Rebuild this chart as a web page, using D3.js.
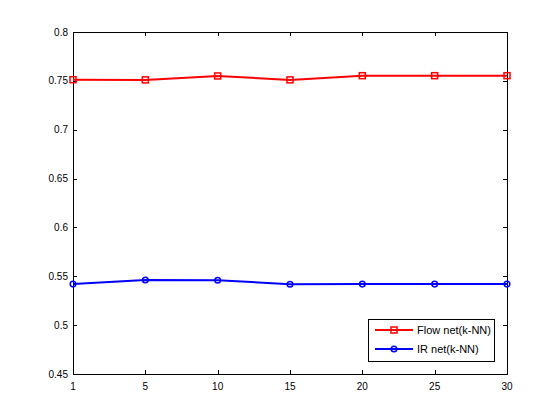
<!DOCTYPE html>
<html><head><meta charset="utf-8">
<script src="https://cdn.jsdelivr.net/npm/d3@7"></script>
<style>body{margin:0;background:#fff;} svg{display:block;} text{font-family:"Liberation Sans",Arial,Helvetica,sans-serif;font-size:10px;}</style>
</head><body>
<script>
const kLabels = ["1","5","10","15","20","25","30"];
const flowNet = [0.7512, 0.7510, 0.7550, 0.7510, 0.7553, 0.7553, 0.7553];
const irNet = [0.5420, 0.5462, 0.5460, 0.5418, 0.5420, 0.5420, 0.5420];
const yTicks = [0.45, 0.5, 0.55, 0.6, 0.65, 0.7, 0.75, 0.8];
const seriesNames = ["Flow net(k-NN)", "IR net(k-NN)"];

const W = 560, H = 420;
const m = {l: 73, r: 507, t: 32, b: 374};
const svg = d3.select("body").append("svg").attr("width", W).attr("height", H);
svg.append("rect").attr("width", W).attr("height", H).attr("fill", "#fff");

const x = d3.scalePoint().domain(kLabels).range([m.l, m.r]);
const y = d3.scaleLinear().domain([0.45, 0.8]).range([m.b, m.t]);
const tl = 4;

svg.append("rect").attr("x", m.l).attr("y", m.t).attr("width", m.r - m.l).attr("height", m.b - m.t)
  .attr("fill", "#fff").attr("stroke", "#000").attr("stroke-width", 1).attr("shape-rendering", "crispEdges");

const g = svg.append("g").attr("shape-rendering", "crispEdges");
kLabels.forEach(k => {
  const px = Math.round(x(k)) + 0.5;
  g.append("line").attr("x1", px).attr("x2", px).attr("y1", m.b).attr("y2", m.b - tl).attr("stroke", "#000");
  g.append("line").attr("x1", px).attr("x2", px).attr("y1", m.t).attr("y2", m.t + tl).attr("stroke", "#000");
  svg.append("text").attr("x", x(k)).attr("y", m.b + 16).attr("text-anchor", "middle").text(k);
});
yTicks.forEach(v => {
  const py = Math.round(y(v)) + 0.5;
  g.append("line").attr("x1", m.l).attr("x2", m.l + tl).attr("y1", py).attr("y2", py).attr("stroke", "#000");
  g.append("line").attr("x1", m.r).attr("x2", m.r - tl).attr("y1", py).attr("y2", py).attr("stroke", "#000");
  svg.append("text").attr("x", m.l - 5).attr("y", y(v) + 3.5).attr("text-anchor", "end").text(String(v));
});

const line = d3.line().x((d, i) => x(kLabels[i])).y(d => y(d));
svg.append("path").datum(flowNet).attr("d", line).attr("fill", "none").attr("stroke", "#ff0000").attr("stroke-width", 2);
svg.append("path").datum(irNet).attr("d", line).attr("fill", "none").attr("stroke", "#0000ff").attr("stroke-width", 2);

svg.selectAll(".sq").data(flowNet).enter().append("rect")
  .attr("x", (d, i) => x(kLabels[i]) - 3).attr("y", d => y(d) - 3).attr("width", 6).attr("height", 6)
  .attr("fill", "none").attr("stroke", "#ff0000").attr("stroke-width", 1.5);
svg.selectAll(".ci").data(irNet).enter().append("circle")
  .attr("cx", (d, i) => x(kLabels[i])).attr("cy", d => y(d)).attr("r", 2.8)
  .attr("fill", "none").attr("stroke", "#0000ff").attr("stroke-width", 1.5);

const lg = svg.append("g");
lg.append("rect").attr("x", 368.5).attr("y", 319.5).attr("width", 126).attr("height", 42)
  .attr("fill", "#fff").attr("stroke", "#000").attr("stroke-width", 1).attr("shape-rendering", "crispEdges");
const rows = [{c: "#ff0000", yy: 330}, {c: "#0000ff", yy: 349}];
rows.forEach((r, i) => {
  lg.append("line").attr("x1", 375).attr("x2", 413).attr("y1", r.yy).attr("y2", r.yy).attr("stroke", r.c).attr("stroke-width", 2);
  if (i === 0) lg.append("rect").attr("x", 391).attr("y", r.yy - 3).attr("width", 6).attr("height", 6).attr("fill", "none").attr("stroke", r.c).attr("stroke-width", 1.5);
  else lg.append("circle").attr("cx", 394).attr("cy", r.yy).attr("r", 2.8).attr("fill", "none").attr("stroke", r.c).attr("stroke-width", 1.5);
  lg.append("text").attr("x", 417).attr("y", r.yy + 4).style("font-size", "11px").text(seriesNames[i]);
});
</script>
</body></html>
